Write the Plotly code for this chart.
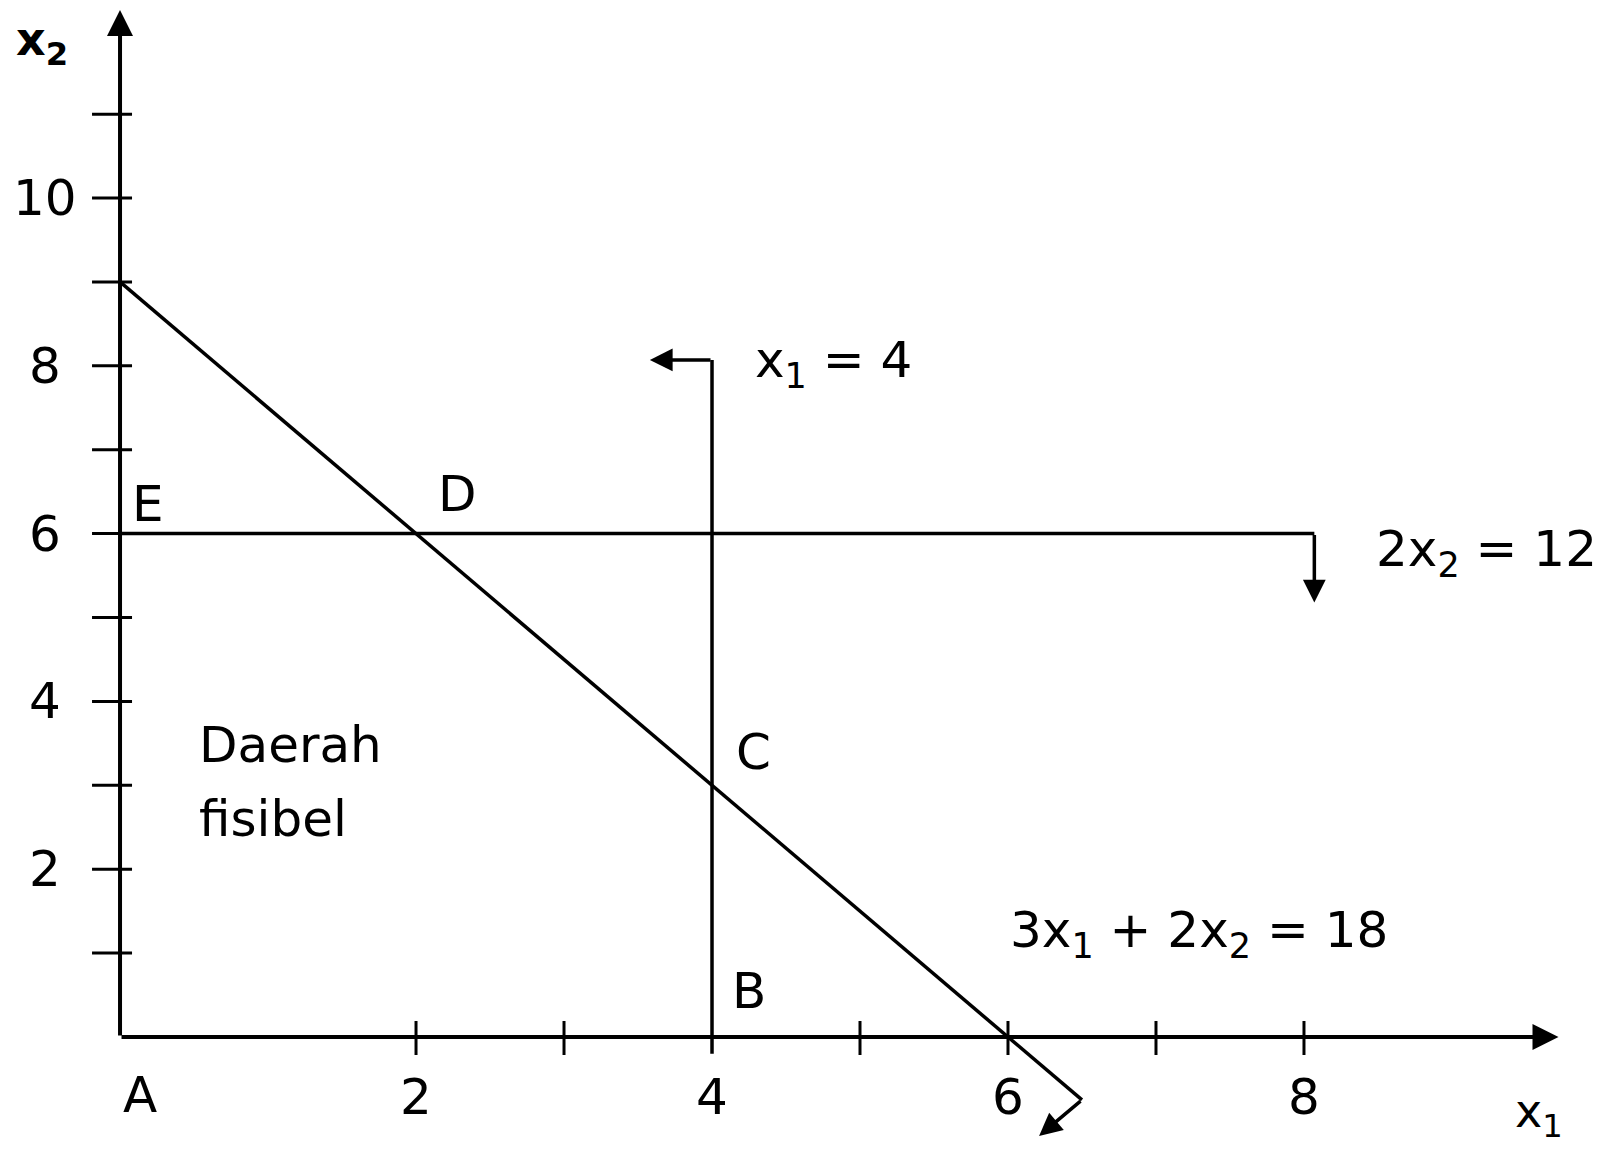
import plotly.graph_objects as go

# batas-batas (constraint) dan titik sudut
garis_c1_x = [0, 6.5]          # 3x1 + 2x2 = 18
garis_c1_y = [9, -0.75]
garis_c2_x = [4, 4]            # x1 = 4
garis_c2_y = [-0.2, 8.07]
garis_c3_x = [0, 8.07]         # 2x2 = 12
garis_c3_y = [6, 6]

tick_x = [2, 3, 5, 6, 7, 8]
tick_y = [1, 2, 3, 4, 5, 6, 7, 8, 9, 10, 11]
label_x = [2, 4, 6, 8]
label_y = [2, 4, 6, 8, 10]

titik_nama = ['E', 'D', 'C', 'B']
titik_x = [0.19, 2.28, 4.28, 4.25]
titik_y = [6.35, 6.47, 3.40, 0.55]

font_family = 'DejaVu Sans, Arial, sans-serif'
ukuran = 50
hitam = 'black'

fig = go.Figure()

for xs, ys in [(garis_c1_x, garis_c1_y), (garis_c2_x, garis_c2_y), (garis_c3_x, garis_c3_y)]:
    fig.add_trace(go.Scatter(x=xs, y=ys, mode='lines',
                             line=dict(color=hitam, width=3.5), hoverinfo='skip'))

# sumbu x1 dan x2 dengan panah
def panah(x0, y0, x1, y1, lebar=3.5):
    fig.add_annotation(x=x1, y=y1, ax=x0, ay=y0, xref='x', yref='y',
                       axref='x', ayref='y', text='', showarrow=True,
                       arrowhead=2, arrowsize=1.3, arrowwidth=lebar,
                       arrowcolor=hitam, standoff=0, startstandoff=0)

panah(0, 0, 9.72, 0, 4)
panah(0, 0, 0, 12.24, 4)
# arah daerah fisibel
panah(4, 8.07, 3.58, 8.07)
panah(8.07, 6, 8.07, 5.18)
panah(6.5, -0.75, 6.21, -1.18)

# tanda skala
for t in tick_x:
    fig.add_shape(type='line', xref='x', yref='y', x0=t, x1=t,
                  ysizemode='pixel', yanchor=0, y0=-18, y1=16,
                  line=dict(color=hitam, width=3))
for t in tick_y:
    fig.add_shape(type='line', xref='x', yref='y', y0=t, y1=t,
                  xsizemode='pixel', xanchor=0, x0=-28, x1=12,
                  line=dict(color=hitam, width=3))

def teks(x, y, s, anchor='center', size=ukuran):
    fig.add_annotation(x=x, y=y, text=s, showarrow=False, xanchor=anchor,
                       yanchor='middle', font=dict(family=font_family, size=size, color=hitam))

for v in label_x:
    teks(v, -0.71, str(v))
for v in label_y:
    teks(-0.51, v, str(v))

teks(0.135, -0.69, 'A')
for n, x, y in zip(titik_nama, titik_x, titik_y):
    teks(x, y, n)

teks(0.52, 3.48, 'Daerah', 'left')
teks(0.52, 2.60, 'fisibel', 'left')
teks(4.28, 8.03, 'x<sub>1</sub> = 4', 'left')
teks(8.47, 5.77, '2x<sub>2</sub> = 12', 'left')
teks(6.0, 1.23, '3x<sub>1</sub> + 2x<sub>2</sub> = 18', 'left')
teks(9.59, -0.92, 'x<sub>1</sub>', size=46)
teks(-0.53, 11.85, '<b>x<sub>2</sub></b>', size=46)

fig.update_layout(
    width=1597, height=1141,
    margin=dict(l=0, r=0, t=0, b=0),
    plot_bgcolor='white', paper_bgcolor='white',
    showlegend=False,
    font=dict(family=font_family, size=ukuran, color=hitam),
)
fig.update_xaxes(range=[-0.757, 10.034], visible=False, fixedrange=True)
fig.update_yaxes(range=[-1.335, 12.265], visible=False, fixedrange=True)

fig.write_html('out.html')
